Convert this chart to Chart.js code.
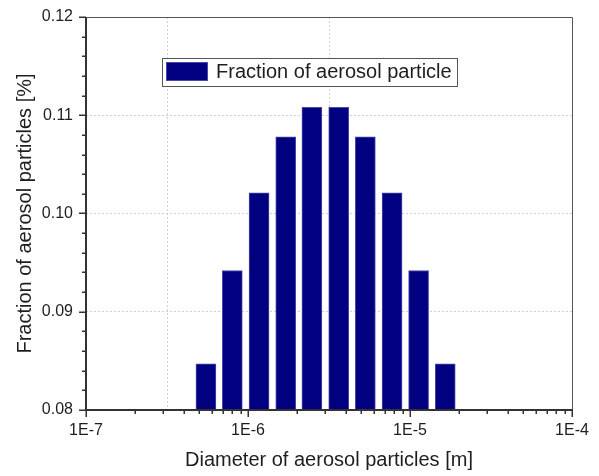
<!DOCTYPE html>
<html>
<head>
<meta charset="utf-8">
<script src="https://cdn.jsdelivr.net/npm/chart.js@4"></script>
<style>
  html, body { margin: 0; padding: 0; background: #fff; }
  #wrap { width: 599px; height: 476px; }
</style>
</head>
<body>
<div id="wrap"><canvas id="chart"></canvas></div>
<script>
// data
const diameters = [5.5e-7, 8.0e-7, 1.17e-6, 1.71e-6, 2.48e-6, 3.63e-6, 5.3e-6, 7.75e-6, 1.13e-5, 1.65e-5];
const fractions = [0.0847, 0.0942, 0.1021, 0.1078, 0.1108, 0.1108, 0.1078, 0.1021, 0.0942, 0.0847];
const xMajorTicks = [1e-7, 1e-6, 1e-5, 1e-4];
const xTickLabels = ['1E-7', '1E-6', '1E-5', '1E-4'];
const yMajorTicks = [0.08, 0.09, 0.10, 0.11, 0.12];
const legendLabel = 'Fraction of aerosol particle';

const barColor = '#000080';
const textColor = '#1e1e1e';
const fontFamily = '"Liberation Sans", Arial, sans-serif';

// axes frame, ticks and legend box
const framePlugin = {
    id: 'frame',
    afterDraw(chart) {
        const ctx = chart.ctx;
        const a = chart.chartArea;
        const xs = chart.scales.x;
        const ys = chart.scales.y;
        ctx.save();

        // top + right border
        ctx.strokeStyle = '#555';
        ctx.lineWidth = 1;
        ctx.beginPath();
        ctx.moveTo(a.left, a.top + 0.5);
        ctx.lineTo(a.right + 0.5, a.top + 0.5);
        ctx.lineTo(a.right + 0.5, a.bottom);
        ctx.stroke();

        // left + bottom axis lines
        ctx.strokeStyle = '#333';
        ctx.lineWidth = 2;
        ctx.beginPath();
        ctx.moveTo(a.left, a.top);
        ctx.lineTo(a.left, a.bottom);
        ctx.lineTo(a.right + 1, a.bottom);
        ctx.stroke();

        // y ticks
        ctx.lineWidth = 1.5;
        for (let v = 80; v <= 120; v += 2) {
            const py = Math.round(ys.getPixelForValue(v / 1000)) + 0.25;
            const len = v % 10 === 0 ? 7 : 4;
            ctx.beginPath();
            ctx.moveTo(a.left, py);
            ctx.lineTo(a.left - len, py);
            ctx.stroke();
        }

        // x ticks (log)
        for (let e = -7; e <= -4; e++) {
            for (let k = 1; k <= 9; k++) {
                if (e === -4 && k > 1) break;
                const px = Math.round(xs.getPixelForValue(k * Math.pow(10, e))) + 0.25;
                const len = k === 1 ? 7 : 4;
                ctx.beginPath();
                ctx.moveTo(px, a.bottom);
                ctx.lineTo(px, a.bottom + len);
                ctx.stroke();
            }
        }

        // legend
        ctx.fillStyle = '#fff';
        ctx.fillRect(162, 58, 295, 28);
        ctx.strokeStyle = '#555';
        ctx.lineWidth = 1;
        ctx.strokeRect(162.5, 58.5, 295, 28);
        ctx.fillStyle = barColor;
        ctx.fillRect(166, 62, 42, 19);
        ctx.strokeStyle = '#4a4aa8';
        ctx.strokeRect(166.5, 62.5, 41, 18);
        ctx.fillStyle = textColor;
        ctx.font = '20px ' + fontFamily;
        ctx.textBaseline = 'middle';
        ctx.textAlign = 'left';
        ctx.fillText(legendLabel, 216, 72.5);

        ctx.restore();
    }
};

const ctx = document.getElementById('chart').getContext('2d');
const chart = new Chart(ctx, {
    type: 'bar',
    data: {
        datasets: [{
            label: legendLabel,
            data: diameters.map((d, i) => ({ x: d, y: fractions[i] })),
            backgroundColor: barColor,
            borderColor: '#4a4aa8',
            borderWidth: 1,
            barThickness: 20,
            base: 0.08
        }]
    },
    options: {
        responsive: true,
        maintainAspectRatio: false,
        animation: false,
        layout: { padding: { top: 17, right: 27, left: 0, bottom: 0 } },
        plugins: {
            legend: { display: false },
            tooltip: { enabled: false }
        },
        scales: {
            x: {
                type: 'logarithmic',
                min: 1e-7,
                max: 1e-4,
                afterBuildTicks: scale => {
                    scale.ticks = xMajorTicks.map(v => ({ value: v }));
                },
                afterFit: scale => {
                    scale.height = 66;
                    scale.paddingLeft = 0;
                    scale.paddingRight = 0;
                },
                ticks: {
                    autoSkip: false,
                    maxRotation: 0,
                    padding: 11,
                    color: textColor,
                    font: { family: fontFamily, size: 16 },
                    callback: (v, i) => xTickLabels[i]
                },
                grid: {
                    drawTicks: false,
                    color: c => (c.index === 0 || c.index === xMajorTicks.length - 1) ? 'rgba(0,0,0,0)' : '#cfcfcf',
                    lineWidth: 1
                },
                border: { display: false, dash: [2, 2] },
                title: {
                    display: true,
                    text: 'Diameter of aerosol particles [m]',
                    color: textColor,
                    font: { family: fontFamily, size: 20 },
                    padding: { top: 0, bottom: 4 }
                }
            },
            y: {
                min: 0.08,
                max: 0.12,
                afterBuildTicks: scale => {
                    scale.ticks = yMajorTicks.map(v => ({ value: v }));
                },
                afterFit: scale => {
                    scale.width = 86;
                    scale.paddingTop = 0;
                    scale.paddingBottom = 0;
                },
                ticks: {
                    padding: 13,
                    color: textColor,
                    font: { family: fontFamily, size: 16 },
                    callback: v => v.toFixed(2)
                },
                grid: {
                    drawTicks: false,
                    color: c => (c.index === 0 || c.index === yMajorTicks.length - 1) ? 'rgba(0,0,0,0)' : '#cfcfcf',
                    lineWidth: 1
                },
                border: { display: false, dash: [2, 2] },
                title: {
                    display: true,
                    text: 'Fraction of aerosol particles [%]',
                    color: textColor,
                    font: { family: fontFamily, size: 20 },
                    padding: { top: 13, bottom: 0 }
                }
            }
        }
    },
    plugins: [framePlugin]
});
</script>
</body>
</html>
